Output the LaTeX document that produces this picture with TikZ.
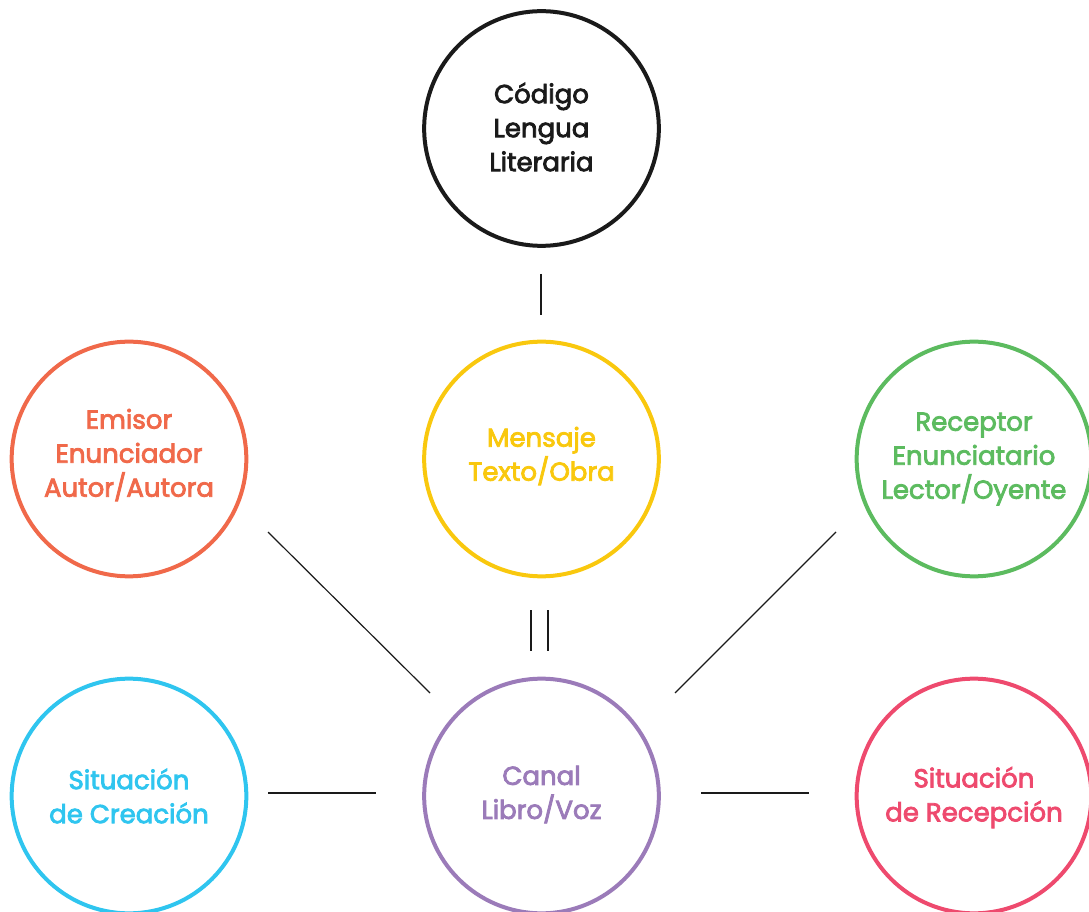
\documentclass[tikz,border=0pt]{standalone}
\usepackage{fontspec}
\setmainfont{Poppins}
\definecolor{cblack}{HTML}{1A1A1A}
\definecolor{corange}{HTML}{F0694A}
\definecolor{cyellow}{HTML}{F9C80E}
\definecolor{cgreen}{HTML}{5CBB5F}
\definecolor{cblue}{HTML}{2FC5EF}
\definecolor{cpink}{HTML}{EE4A6E}
\definecolor{cpurple}{HTML}{9B7BB9}
\newcommand\mediumtext{\special{pdf:literal 2 Tr 0.6 w}}
\begin{document}
\begin{tikzpicture}[x=0.75pt,y=-0.75pt,
  circ/.style={circle,draw=#1,line width=3pt,minimum size=176pt,inner sep=0pt},
  lbl/.style={text=#1,inner sep=0pt,align=center,font=\fontsize{19.5}{25.5}\selectfont\mediumtext},
  conn/.style={draw=cblack,line width=0.9pt}]
\useasboundingbox (0,0) rectangle (1089,912);
\node[circ=cblack] (codigo) at (541.5,128.5) {};
\node[circ=cyellow] (mensaje) at (541.5,459) {};
\node[circ=corange] (emisor) at (129,459) {};
\node[circ=cgreen] (receptor) at (974,459) {};
\node[circ=cblue] (creacion) at (129,796) {};
\node[circ=cpurple] (canal) at (541.5,796) {};
\node[circ=cpink] (recepcion) at (974,796) {};
\node[lbl=cblack] (codigo-t) at (541.5,127) {Código\\Lengua\\Literaria};
\node[lbl=cyellow] (mensaje-t) at (541.5,456) {Mensaje\\Texto/Obra};
\node[lbl=corange] (emisor-t) at (129,455) {Emisor\\Enunciador\\Autor/Autora};
\node[lbl=cgreen] (receptor-t) at (974,459) {Receptor\\Enunciatario\\Lector/Oyente};
\node[lbl=cblue] (creacion-t) at (129,796) {Situación\\de Creación};
\node[lbl=cpurple] (canal-t) at (541.5,794.5) {Canal\\Libro/Voz};
\node[lbl=cpink] (recepcion-t) at (974,797.5) {Situación\\de Recepción};
% connector end points
\coordinate (a1) at (541,274); \coordinate (a2) at (541,315);
\coordinate (b1) at (531,610); \coordinate (b2) at (531,651);
\coordinate (c1) at (548,610); \coordinate (c2) at (548,651);
\coordinate (d1) at (268,532); \coordinate (d2) at (430,693);
\coordinate (e1) at (836,532); \coordinate (e2) at (675,693);
\coordinate (f1) at (268,793); \coordinate (f2) at (376,793);
\coordinate (g1) at (701,793); \coordinate (g2) at (809,793);
\draw[conn] (a1) -- (a2);
\draw[conn] (b1) -- (b2);
\draw[conn] (c1) -- (c2);
\draw[conn] (d1) -- (d2);
\draw[conn] (e1) -- (e2);
\draw[conn] (f1) -- (f2);
\draw[conn] (g1) -- (g2);
\end{tikzpicture}
\end{document}
